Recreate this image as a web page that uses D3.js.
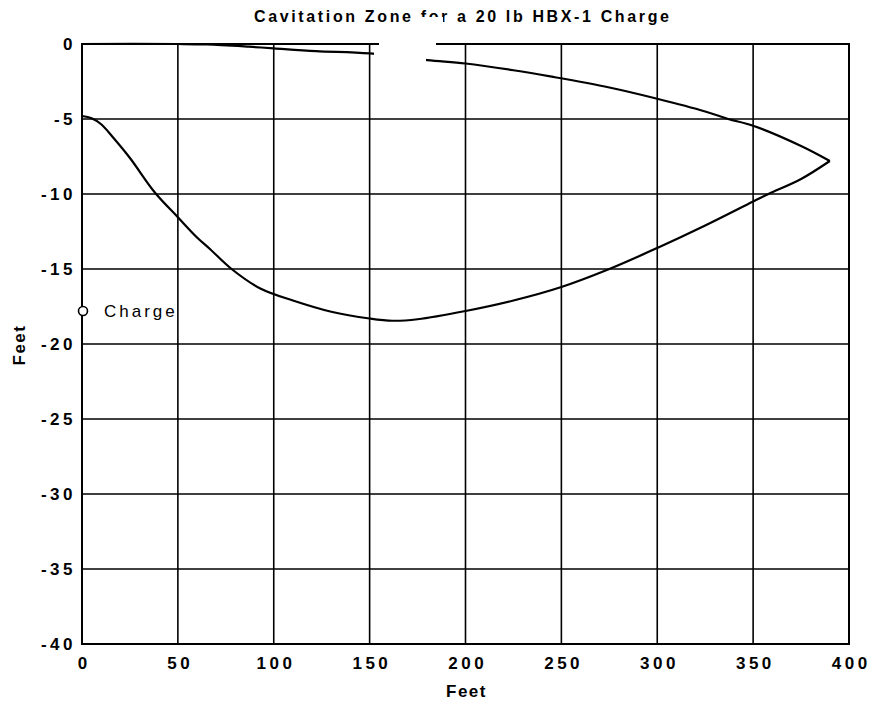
<!DOCTYPE html>
<html><head><meta charset="utf-8">
<script src="https://cdn.jsdelivr.net/npm/d3@7"></script>
<style>body{margin:0;background:#fff}</style>
</head><body>
<svg id="c" width="871" height="707"></svg>
<script>
const title = "Cavitation Zone for a 20 lb HBX-1 Charge";
const xLabel = "Feet", yLabel = "Feet";
const xTicks = [0,50,100,150,200,250,300,350,400];
const yTicks = [0,-5,-10,-15,-20,-25,-30,-35,-40];
// upper boundary of cavitation zone
const upperX = [0,50,65,87,100,122,150,180,200,225,245,275,300,325,337,350,375,390];
const upperY = [0,0,-0.03,-0.18,-0.29,-0.47,-0.63,-1.07,-1.3,-1.75,-2.18,-2.9,-3.65,-4.5,-5.0,-5.45,-6.8,-7.8];
// lower boundary
const lowerX = [0,5,10,16,25,38,50,60,67,78,93,110,130,150,162,175,200,225,250,275,300,325,350,358,375,390];
const lowerY = [-4.8,-4.95,-5.35,-6.2,-7.6,-9.9,-11.55,-12.9,-13.7,-15,-16.3,-17.1,-17.85,-18.3,-18.45,-18.35,-17.8,-17.1,-16.2,-15,-13.6,-12.1,-10.5,-10,-9,-7.8];
const chargeX = [0], chargeY = [-17.8], chargeLabel = ["Charge"];

const svg = d3.select("#c");
const L=82,R=849,T=44,B=644;
const x = d3.scaleLinear().domain([0,400]).range([L,R]);
const y = d3.scaleLinear().domain([0,-40]).range([T,B]);
const font = "Arial, 'Liberation Sans', sans-serif";

// grid
svg.append("g").selectAll("line").data(xTicks).join("line")
  .attr("x1",d=>x(d)).attr("x2",d=>x(d)).attr("y1",T).attr("y2",B)
  .attr("stroke","#000").attr("stroke-width",1.6);
svg.append("g").selectAll("line").data(yTicks).join("line")
  .attr("x1",L).attr("x2",R).attr("y1",d=>y(d)).attr("y2",d=>y(d))
  .attr("stroke","#000").attr("stroke-width",1.6);
svg.append("rect").attr("x",L).attr("y",T).attr("width",R-L).attr("height",B-T)
  .attr("fill","none").attr("stroke","#000").attr("stroke-width",2);

// axes (labels only)
const ls = 3.5;
const xa = svg.append("g").attr("transform",`translate(0,${B})`)
  .call(d3.axisBottom(x).tickValues(xTicks).tickSize(0).tickPadding(13).tickFormat(d=>String(d)));
const ya = svg.append("g").attr("transform",`translate(${L},0)`)
  .call(d3.axisLeft(y).tickValues(yTicks).tickSize(0).tickPadding(6).tickFormat(d=>String(d)));
[xa,ya].forEach(a=>{a.select(".domain").remove();
  a.selectAll("text").attr("font-family",font).attr("font-size",17).attr("font-weight","bold")
   .attr("letter-spacing",ls+"px").attr("fill","#000");});
xa.selectAll("text").attr("dx",ls/2);
ya.selectAll("text").attr("dy","0.3em");

// curves
const line2 = d3.line().x(d=>x(d[0])).y(d=>y(d[1])).curve(d3.curveCatmullRom);
svg.append("path").datum(upperX.map((v,i)=>[v,upperY[i]])).attr("d",line2)
  .attr("fill","none").attr("stroke","#000").attr("stroke-width",2.2);
svg.append("path").datum(lowerX.map((v,i)=>[v,lowerY[i]])).attr("d",line2)
  .attr("fill","none").attr("stroke","#000").attr("stroke-width",2.2);

// charge
svg.append("g").selectAll("circle").data(chargeX).join("circle")
  .attr("cx",(d)=>x(d)+1).attr("cy",(d,i)=>y(chargeY[i])).attr("r",4.5)
  .attr("fill","#fff").attr("stroke","#000").attr("stroke-width",1.6);
svg.append("g").selectAll("text").data(chargeLabel).join("text")
  .attr("x",x(chargeX[0])+22).attr("y",y(chargeY[0])+6)
  .attr("font-family",font).attr("font-size",17).attr("letter-spacing","3px").attr("fill","#000")
  .text(d=>d);

// titles
svg.append("text").attr("x",254).attr("y",22).attr("textLength",415).attr("lengthAdjust","spacing")
  .attr("font-family",font).attr("font-size",16).attr("font-weight","bold").text(title);
svg.append("text").attr("x",465.5+1).attr("y",697).attr("text-anchor","middle")
  .attr("font-family",font).attr("font-size",17).attr("font-weight","bold").attr("letter-spacing","1.5px").text(xLabel);
svg.append("text").attr("transform","translate(25,345) rotate(-90)").attr("text-anchor","middle")
  .attr("font-family",font).attr("font-size",17).attr("font-weight","bold").attr("letter-spacing","1.5px").text(yLabel);

// scan artifacts (white patches present in the reference)
svg.append("rect").attr("x",379).attr("y",30).attr("width",57).attr("height",22).attr("fill","#fff");
svg.append("rect").attr("x",374).attr("y",50).attr("width",52).attr("height",12).attr("fill","#fff");
svg.append("rect").attr("x",421).attr("y",17).attr("width",22).attr("height",8).attr("fill","#fff");
</script>
</body></html>
